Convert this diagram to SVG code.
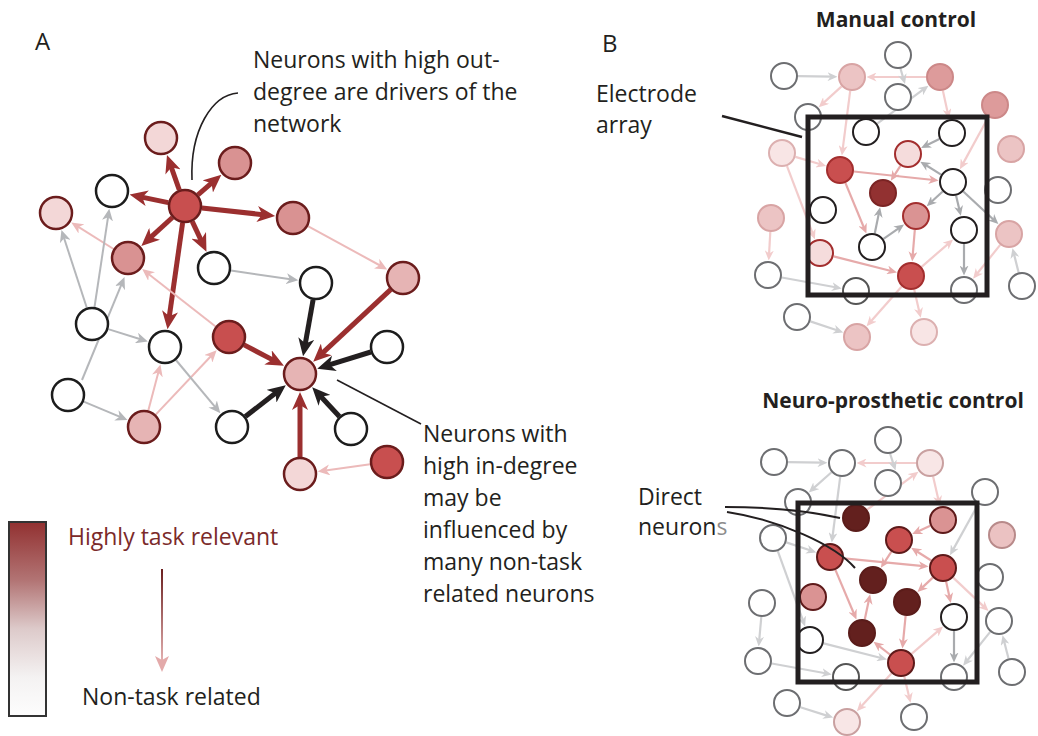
<svg xmlns="http://www.w3.org/2000/svg" width="1038" height="736" viewBox="0 0 1038 736">
<style>
text{font-family:"Open Sans","Liberation Sans",sans-serif;fill:#231f20}
.t{font-size:23px}
.b{font-size:21px;font-weight:bold}
.thR{stroke:#9b2f2f;stroke-width:5;fill:none;marker-end:url(#mR)}
.thK{stroke:#231f20;stroke-width:5;fill:none;marker-end:url(#mK)}
.aG{stroke:#b5b7ba;stroke-width:2;fill:none;marker-end:url(#mG)}
.aP{stroke:#ecbaba;stroke-width:2;fill:none;marker-end:url(#mP)}
.gO{stroke:#cfd0d2;stroke-width:2.2;fill:none;marker-end:url(#mgO)}
.gI{stroke:#a9abae;stroke-width:2.2;fill:none;marker-end:url(#mgI)}
.pO{stroke:#f2cccc;stroke-width:2.2;fill:none;marker-end:url(#mpO)}
.pI{stroke:#e6aaaa;stroke-width:2.2;fill:none;marker-end:url(#mpI)}
.nw{fill:#fff;stroke:#1c1c1c;stroke-width:2.5}
.nc{stroke:#6b1c1c;stroke-width:2.5}
.c1{fill:#c84f4f}.c2{fill:#d99292}.c3{fill:#e6b4b4}.c4{fill:#f3d7d7}
.bw{fill:#fff;stroke:#6d6e71;stroke-width:2}
.bk{fill:#fff;stroke:#231f20;stroke-width:2}
.bpl{fill:#ecc4c4;stroke:#d8a4a4;stroke-width:2}
.bpm{fill:#dd9b9b;stroke:#cc8888;stroke-width:2}
.bpv{fill:#f8e5e5;stroke:#dcb0b0;stroke-width:2}
.brt{fill:#c94f4f;stroke:#a32e2e;stroke-width:2}
.bvt{fill:#f5dcdc;stroke:#a32e2e;stroke-width:2}
.bmt{fill:#da9393;stroke:#a32e2e;stroke-width:2}
.bdt{fill:#923131;stroke:#7b2424;stroke-width:2}
.brb{fill:#c94f4f;stroke:#5e1a1a;stroke-width:2}
.bmb{fill:#da9393;stroke:#5e1a1a;stroke-width:2}
.bdb{fill:#63201e;stroke:#5a1c1a;stroke-width:2}
.bvb{fill:#f8e6e6;stroke:#c9a0a0;stroke-width:2}
.bplb{fill:#ebc2c2;stroke:#b88a8a;stroke-width:2}
.arr{fill:none;stroke:#231f20;stroke-width:5}
.ln{fill:none;stroke:#231f20;stroke-width:1.6}
</style>
<defs>
<marker id="mR" viewBox="0 0 18 16" markerWidth="18" markerHeight="16" refX="8" refY="8" orient="auto" markerUnits="userSpaceOnUse"><path d="M0,0 L18,8 L0,16 L5,8 Z" fill="#9b2f2f"/></marker>
<marker id="mK" viewBox="0 0 18 16" markerWidth="18" markerHeight="16" refX="8" refY="8" orient="auto" markerUnits="userSpaceOnUse"><path d="M0,0 L18,8 L0,16 L5,8 Z" fill="#231f20"/></marker>
<marker id="mG" viewBox="0 0 12 11" markerWidth="12" markerHeight="11" refX="6" refY="5.5" orient="auto" markerUnits="userSpaceOnUse"><path d="M0,0 L12,5.5 L0,11 L3.5,5.5 Z" fill="#b5b7ba"/></marker>
<marker id="mP" viewBox="0 0 12 11" markerWidth="12" markerHeight="11" refX="6" refY="5.5" orient="auto" markerUnits="userSpaceOnUse"><path d="M0,0 L12,5.5 L0,11 L3.5,5.5 Z" fill="#ecbaba"/></marker>
<marker id="mgO" viewBox="0 0 10 9" markerWidth="10" markerHeight="9" refX="5" refY="4.5" orient="auto" markerUnits="userSpaceOnUse"><path d="M0,0 L10,4.5 L0,9 L3,4.5 Z" fill="#cfd0d2"/></marker>
<marker id="mgI" viewBox="0 0 10 9" markerWidth="10" markerHeight="9" refX="5" refY="4.5" orient="auto" markerUnits="userSpaceOnUse"><path d="M0,0 L10,4.5 L0,9 L3,4.5 Z" fill="#a9abae"/></marker>
<marker id="mpO" viewBox="0 0 10 9" markerWidth="10" markerHeight="9" refX="5" refY="4.5" orient="auto" markerUnits="userSpaceOnUse"><path d="M0,0 L10,4.5 L0,9 L3,4.5 Z" fill="#f2cccc"/></marker>
<marker id="mpI" viewBox="0 0 10 9" markerWidth="10" markerHeight="9" refX="5" refY="4.5" orient="auto" markerUnits="userSpaceOnUse"><path d="M0,0 L10,4.5 L0,9 L3,4.5 Z" fill="#e6aaaa"/></marker>
<linearGradient id="legBar" x1="0" y1="0" x2="0" y2="1">
<stop offset="0" stop-color="#923131"/><stop offset="0.3" stop-color="#b27474"/><stop offset="0.55" stop-color="#ddcaca"/><stop offset="0.8" stop-color="#f4f2f2"/><stop offset="1" stop-color="#fdfdfd"/>
</linearGradient>
<linearGradient id="legArr" x1="0" y1="0" x2="0" y2="1">
<stop offset="0" stop-color="#6b1f1f"/><stop offset="1" stop-color="#e3b0b0"/>
</linearGradient>
</defs>

<rect width="1038" height="736" fill="#fff"/>

<!-- Labels -->
<text class="t" x="35" y="50" style="font-size:24px">A</text>
<text class="t" x="602" y="52" style="font-size:24px">B</text>
<text class="t" x="253" y="68">Neurons with high out-</text>
<text class="t" x="253" y="100">degree are drivers of the</text>
<text class="t" x="253" y="132">network</text>
<text class="t" x="423" y="442">Neurons with</text>
<text class="t" x="423" y="474">high in-degree</text>
<text class="t" x="423" y="506">may be</text>
<text class="t" x="423" y="538">influenced by</text>
<text class="t" x="423" y="570">many non-task</text>
<text class="t" x="423" y="602">related neurons</text>
<text class="b" x="896" y="27" text-anchor="middle">Manual control</text>
<text class="b" x="893" y="408" text-anchor="middle">Neuro-prosthetic control</text>
<text class="t" x="596" y="102">Electrode</text>
<text class="t" x="596" y="133">array</text>
<text class="t" x="638" y="505">Direct</text>
<text class="t" x="638" y="535">neuron<tspan fill="#8c8c8c">s</tspan></text>

<!-- Legend -->
<g id="legend">
<rect x="9" y="522" width="37" height="194" fill="url(#legBar)" stroke="#333" stroke-width="2"/>
<text class="t" x="68" y="545" style="fill:#7b2a2a">Highly task relevant</text>
<rect x="161" y="569" width="2" height="92" fill="url(#legArr)"/>
<path d="M155,656 L162,672 L169,656 L162,660 Z" fill="#e3aaaa"/>
<text class="t" x="82" y="705">Non-task related</text>
</g>

<!-- Panel A connectors -->
<g id="connectors-A">
<path class="thR" d="M179.3,190 L170.3,164.4"/>
<path class="thR" d="M197.9,194.9 L213.8,181.2"/>
<path class="thR" d="M201.9,207.9 L265.2,214.9"/>
<path class="thR" d="M168.3,202.6 L139.4,196.6"/>
<path class="thR" d="M172.4,217.5 L148.7,239.2"/>
<path class="thR" d="M192.2,221.4 L202.2,242.6"/>
<path class="thR" d="M182.6,222.8 L168.9,319.3"/>
<path class="thK" d="M313.1,299.7 L304.8,346.5"/>
<path class="thR" d="M390.6,289.6 L320.5,354.9"/>
<path class="thK" d="M370.8,352 L326.8,365.7"/>
<path class="thR" d="M244.1,344.9 L275.1,361.1"/>
<path class="thK" d="M245.4,416.5 L277.9,391.3"/>
<path class="thK" d="M339.4,416.5 L319,394.5"/>
<path class="thR" d="M300,457 L300,402"/>
<path class="aP" d="M307.9,226.1 L381.9,266.5"/>
<path class="aP" d="M113.6,249 L76.4,225.7"/>
<path class="aP" d="M215.6,326.5 L146.9,272.8"/>
<path class="aP" d="M148.3,410.6 L158.9,370.2"/>
<path class="aP" d="M155.7,414.6 L212.5,354.5"/>
<path class="aP" d="M370.2,464.3 L323.7,470.7"/>
<path class="aG" d="M86.8,307.8 L63.3,235.8"/>
<path class="aG" d="M94.5,307.2 L108.4,214.7"/>
<path class="aG" d="M82,380 L122.2,282.6"/>
<path class="aG" d="M108.2,329.1 L142.1,339.8"/>
<path class="aG" d="M83.7,401.6 L121.9,417.7"/>
<path class="aG" d="M175.9,360 L216.5,408.6"/>
<path class="aG" d="M230.8,270.5 L292.3,279.5"/>
<path class="ln" d="M192,180 C190,130 212,95 238,93"/>
<path class="ln" d="M337,380 L421,424"/>
</g>

<!-- Panel A nodes -->
<g id="nodes-A">
<circle id="a1" class="nc c1" cx="185" cy="206" r="16"/>
<circle id="a2" class="nc c4" cx="161" cy="138" r="16"/>
<circle id="a3" class="nc c2" cx="235" cy="163" r="16"/>
<circle id="a4" class="nc c2" cx="293" cy="218" r="16"/>
<circle id="a5" class="nw" cx="112" cy="191" r="16"/>
<circle id="a6" class="nc c4" cx="56" cy="213" r="16"/>
<circle id="a7" class="nc c2" cx="128" cy="258" r="16"/>
<circle id="a8" class="nw" cx="214" cy="268" r="16"/>
<circle id="a9" class="nw" cx="316" cy="283" r="16"/>
<circle id="a10" class="nc c3" cx="403" cy="278" r="16"/>
<circle id="a11" class="nw" cx="92" cy="324" r="16"/>
<circle id="a12" class="nw" cx="165" cy="347" r="16"/>
<circle id="a13" class="nc c1" cx="229" cy="337" r="16"/>
<circle id="a14" class="nc c3" cx="300" cy="374" r="16"/>
<circle id="a15" class="nw" cx="387" cy="347" r="16"/>
<circle id="a16" class="nw" cx="68" cy="395" r="16"/>
<circle id="a17" class="nc c3" cx="144" cy="427" r="16"/>
<circle id="a18" class="nw" cx="232" cy="427" r="16"/>
<circle id="a19" class="nw" cx="351" cy="429" r="16"/>
<circle id="a20" class="nc c4" cx="300" cy="474" r="16"/>
<circle id="a21" class="nc c1" cx="387" cy="462" r="16"/>
</g>

<!-- Panel B top connectors -->
<g id="connectors-B1">
<path class="gO" d="M798,76.2 L832.5,76.7"/>
<path class="pO" d="M926,77 L871.5,77"/>
<path class="gO" d="M900,67 L903.6,79.2"/>
<path class="pO" d="M841.6,86.4 L822.4,103.9"/>
<path class="pO" d="M850.2,90.9 L842.5,150.6"/>
<path class="gO" d="M877.2,123.6 L924.4,88.7"/>
<path class="pO" d="M942.9,90.7 L948,113.9"/>
<path class="pO" d="M988.3,117.3 L962.3,164.9"/>
<path class="gI" d="M939.4,139 L925.6,145.7"/>
<path class="gI" d="M941.1,174.6 L924.5,164.3"/>
<path class="pO" d="M795.4,156.9 L821.3,164.5"/>
<path class="pO" d="M787,166.1 L813.1,234.7"/>
<path class="pI" d="M853.9,171.5 L933.6,180"/>
<path class="pI" d="M900.4,165.8 L893.5,176.6"/>
<path class="pI" d="M845.4,182.9 L864.5,229"/>
<path class="gI" d="M874.8,233.3 L879.1,212.1"/>
<path class="gI" d="M883.5,238.9 L900,227.3"/>
<path class="gI" d="M942.7,191.5 L930.4,202.8"/>
<path class="gI" d="M956.1,195.7 L959.7,211"/>
<path class="gI" d="M963.3,191.5 L994.7,220.7"/>
<path class="pI" d="M914.8,230 L912.6,256.5"/>
<path class="pI" d="M833.6,256.4 L892.1,271.2"/>
<path class="pO" d="M921.6,266.8 L949.3,242.8"/>
<path class="gI" d="M964,244 L964,270.5"/>
<path class="pO" d="M1000.2,244.9 L976.2,274.8"/>
<path class="gO" d="M1018.6,272.4 L1013.7,253"/>
<path class="pO" d="M770.3,232 L769,255.5"/>
<path class="gO" d="M781.8,277.5 L836.8,287.5"/>
<path class="pO" d="M901.7,286.5 L869.9,322.4"/>
<path class="pO" d="M914.2,289.6 L919.6,313"/>
<path class="gO" d="M810.3,321.4 L838.5,330.8"/>
<path class="ln" d="M722,116 L802,137" style="stroke-width:2.5"/>
</g>

<!-- Panel B top nodes -->
<g id="nodes-B1">
<circle class="bw" cx="784" cy="76" r="13"/>
<circle class="bpl" cx="852" cy="77" r="13"/>
<circle class="bw" cx="898" cy="55" r="13"/>
<circle class="bpm" cx="940" cy="77" r="13"/>
<circle class="bw" cx="898" cy="97" r="13"/>
<circle class="bpm" cx="995" cy="105" r="13"/>
<circle class="bw" cx="808" cy="117" r="13"/>
<circle class="bk" cx="866" cy="132" r="13"/>
<circle class="bk" cx="952" cy="133" r="13"/>
<circle class="bpl" cx="1011" cy="149" r="13"/>
<circle class="bpv" cx="782" cy="153" r="13"/>
<circle class="bvt" cx="908" cy="154" r="13"/>
<circle class="brt" cx="840" cy="170" r="13"/>
<circle class="bk" cx="953" cy="182" r="13"/>
<circle class="bdt" cx="883" cy="193" r="13"/>
<circle class="bw" cx="998" cy="190" r="13"/>
<circle class="bk" cx="823" cy="210" r="13"/>
<circle class="bmt" cx="916" cy="216" r="13"/>
<circle class="bpl" cx="771" cy="218" r="13"/>
<circle class="bk" cx="964" cy="230" r="13"/>
<circle class="bpl" cx="1009" cy="234" r="13"/>
<circle class="bk" cx="872" cy="247" r="13"/>
<circle class="bvt" cx="820" cy="253" r="13"/>
<circle class="brt" cx="911" cy="276" r="13"/>
<circle class="bw" cx="768" cy="275" r="13"/>
<circle class="bk" cx="856" cy="291" r="13" style="stroke:#555"/>
<circle class="bw" cx="964" cy="290" r="13"/>
<circle class="bw" cx="1022" cy="286" r="13"/>
<circle class="bw" cx="797" cy="317" r="13"/>
<circle class="bpl" cx="857" cy="337" r="13"/>
<circle class="bpv" cx="924" cy="332" r="13"/>
<rect id="array1" class="arr" x="808" y="117" width="179" height="178"/>
</g>

<!-- Panel B bottom connectors -->
<g id="connectors-B2">
<path class="gO" d="M788,462.2 L822.5,462.7"/>
<path class="pO" d="M916,463 L861.5,463"/>
<path class="gO" d="M890,453.5 L894,465.7"/>
<path class="gO" d="M831.5,472.3 L812.5,489.1"/>
<path class="gO" d="M840.2,476.9 L832.4,537.6"/>
<path class="pO" d="M867.2,509.6 L914.4,474.7"/>
<path class="pO" d="M933.1,476.6 L938.7,501"/>
<path class="gO" d="M978.2,504.3 L952.4,550.9"/>
<path class="pI" d="M930.2,525.8 L916.8,531.9"/>
<path class="pI" d="M931.2,560.5 L915.4,550.5"/>
<path class="gO" d="M786.3,542.4 L811.5,550.8"/>
<path class="gO" d="M777.8,551.2 L803.4,621.7"/>
<path class="pI" d="M843.9,558.4 L923.6,566.1"/>
<path class="pI" d="M891.4,551.7 L883.6,563.6"/>
<path class="pI" d="M835.4,569.9 L854.5,615"/>
<path class="pI" d="M864.8,619.3 L869.1,599.1"/>
<path class="pI" d="M932.8,577.6 L921.1,588.6"/>
<path class="pI" d="M946.1,581.6 L949.7,598"/>
<path class="pO" d="M953.2,577.6 L984.9,607.6"/>
<path class="pI" d="M905.6,616 L902.9,643.6"/>
<path class="gO" d="M823.6,643.4 L882.1,658.2"/>
<path class="pO" d="M911.6,653.8 L939.3,629.8"/>
<path class="gI" d="M954,631 L954,657.5"/>
<path class="gO" d="M990.2,631.9 L966.2,661.8"/>
<path class="gO" d="M1008.5,658.4 L1003.8,640"/>
<path class="gO" d="M761.3,617 L759.1,641.5"/>
<path class="gO" d="M771.8,663.5 L826.8,673.5"/>
<path class="pO" d="M891.6,673.3 L860.2,707.6"/>
<path class="pO" d="M904.3,676.6 L909.4,698"/>
<path class="gO" d="M800.4,707.2 L828.4,716.1"/>
<path class="pI" d="M889.9,654.5 L877.5,644.9"/>
</g>

<!-- Panel B bottom nodes -->
<g id="nodes-B2">
<circle class="bw" cx="774" cy="462" r="13"/>
<circle class="bw" cx="842" cy="463" r="13"/>
<circle class="bw" cx="888" cy="440" r="13"/>
<circle class="bvb" cx="930" cy="463" r="13"/>
<circle class="bw" cx="888" cy="483" r="13"/>
<circle class="bw" cx="985" cy="492" r="13"/>
<circle class="bw" cx="798" cy="502" r="13"/>
<circle class="bdb" cx="856" cy="518" r="13"/>
<circle class="bmb" cx="943" cy="520" r="13"/>
<circle class="bplb" cx="1002" cy="535" r="13"/>
<circle class="bw" cx="773" cy="538" r="13"/>
<circle class="brb" cx="899" cy="540" r="13"/>
<circle class="brb" cx="830" cy="557" r="13"/>
<circle class="brb" cx="943" cy="568" r="13"/>
<circle class="bdb" cx="873" cy="580" r="13"/>
<circle class="bw" cx="990" cy="577" r="13"/>
<circle class="bmb" cx="813" cy="597" r="13"/>
<circle class="bdb" cx="907" cy="602" r="13"/>
<circle class="bw" cx="762" cy="603" r="13"/>
<circle class="bk" cx="954" cy="617" r="13"/>
<circle class="bw" cx="999" cy="621" r="13"/>
<circle class="bdb" cx="862" cy="633" r="13"/>
<circle class="bk" cx="810" cy="640" r="13"/>
<circle class="bw" cx="758" cy="661" r="13"/>
<circle class="brb" cx="901" cy="663" r="13"/>
<circle class="bk" cx="846" cy="677" r="13" style="stroke:#555"/>
<circle class="bw" cx="954" cy="677" r="13"/>
<circle class="bw" cx="1012" cy="672" r="13"/>
<circle class="bw" cx="787" cy="703" r="13"/>
<circle class="bvb" cx="847" cy="722" r="13"/>
<circle class="bw" cx="914" cy="717" r="13"/>
<rect id="array2" class="arr" x="798" y="503" width="179" height="179"/>
<path class="ln" d="M725,507 Q790,507 840,518" style="stroke-width:2"/>
<path class="ln" d="M727,512 C780,520 835,545 855,568" style="stroke-width:2"/>
</g>
</svg>
